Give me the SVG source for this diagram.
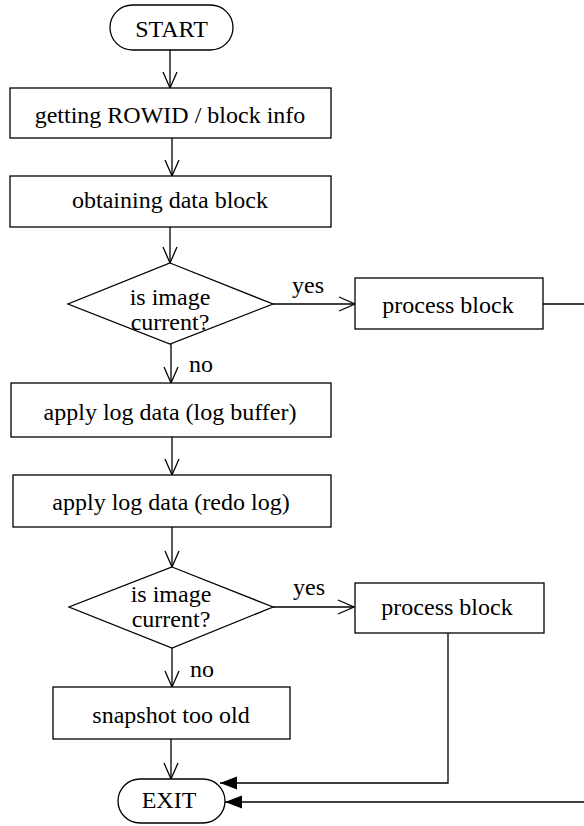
<svg xmlns="http://www.w3.org/2000/svg" width="584" height="826" viewBox="0 0 584 826">
<defs>
<marker id="open" markerUnits="userSpaceOnUse" markerWidth="20" markerHeight="18" viewBox="-18 -9 20 18" refX="0" refY="0" orient="auto">
<path d="M-16,-7 L0,0 L-16,7" fill="none" stroke="#000" stroke-width="1.3"/>
</marker>
<marker id="filled" markerUnits="userSpaceOnUse" markerWidth="20" markerHeight="16" viewBox="-18 -8 20 16" refX="0" refY="0" orient="auto">
<path d="M0,0 L-17,-6.5 L-17,6.5 Z" fill="#000"/>
</marker>
<style>
.box{fill:#fff;stroke:#000;stroke-width:1.3}
.t{font-family:"Liberation Serif","Times New Roman",serif;font-size:24px;fill:#000}
.c{text-anchor:middle}
.ln{fill:none;stroke:#000;stroke-width:1.3}
.lo{marker-end:url(#open)}
.lf{marker-end:url(#filled)}
</style>
</defs>
<g id="connectors">
<path class="ln lo" d="M170,50 V88"/>
<path class="ln lo" d="M172,138 V176"/>
<path class="ln lo" d="M170,227 V263"/>
<path class="ln lo" d="M171,344 V383"/>
<path class="ln lo" d="M172,437 V475"/>
<path class="ln lo" d="M172,527 V567"/>
<path class="ln lo" d="M172,648 V687"/>
<path class="ln lo" d="M171,739 V779"/>
<path class="ln lo" d="M273,304 H355"/>
<path class="ln lo" d="M273,607 H354"/>
<path class="ln lf" d="M543,304 H600 V802 H225"/>
<path class="ln lf" d="M448,633 V783 H220"/>
<text class="t" x="292" y="293">yes</text>
<text class="t" x="189" y="372">no</text>
<text class="t" x="293" y="595">yes</text>
<text class="t" x="190" y="677">no</text>
</g>
<g id="start">
<rect class="box" x="110" y="5" width="123" height="45" rx="22.5"/>
<text class="t c" x="171.5" y="37">START</text>
</g>
<g id="getting-rowid">
<rect class="box" x="10" y="88" width="321" height="50"/>
<text class="t c" x="170" y="123">getting ROWID / block info</text>
</g>
<g id="obtaining">
<rect class="box" x="10" y="176" width="321" height="51"/>
<text class="t c" x="170" y="208">obtaining data block</text>
</g>
<g id="decision1">
<polygon class="box" points="170,263 273,304 170,344 68,304"/>
<text class="t c" x="170" y="305">is image</text>
<text class="t c" x="170" y="330">current?</text>
</g>
<g id="process1">
<rect class="box" x="355" y="278" width="188" height="51"/>
<text class="t c" x="448" y="313">process block</text>
</g>
<g id="apply-buffer">
<rect class="box" x="11" y="383" width="320" height="54"/>
<text class="t c" x="170" y="420">apply log data (log buffer)</text>
</g>
<g id="apply-redo">
<rect class="box" x="13" y="475" width="318" height="52"/>
<text class="t c" x="171" y="510">apply log data (redo log)</text>
</g>
<g id="decision2">
<polygon class="box" points="172,567 273,607 172,648 69,607"/>
<text class="t c" x="171" y="602">is image</text>
<text class="t c" x="171" y="627">current?</text>
</g>
<g id="process2">
<rect class="box" x="355" y="583" width="189" height="50"/>
<text class="t c" x="447" y="615">process block</text>
</g>
<g id="snapshot">
<rect class="box" x="53" y="687" width="237" height="52"/>
<text class="t c" x="171" y="723">snapshot too old</text>
</g>
<g id="exit">
<rect class="box" x="118" y="779" width="107" height="44" rx="22"/>
<text class="t c" x="169" y="808">EXIT</text>
</g>
</svg>
